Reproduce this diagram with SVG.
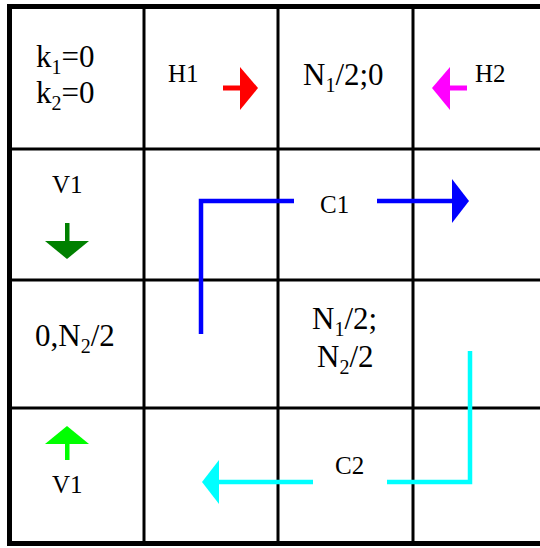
<svg xmlns="http://www.w3.org/2000/svg" width="540" height="548" viewBox="0 0 540 548">
<style>
.big{font-family:"Liberation Serif","Times New Roman",serif;font-size:31px;fill:#000}
.sm{font-family:"Liberation Serif","Times New Roman",serif;font-size:25px;fill:#000}
.sub{font-size:20px}
.grid{stroke:#000;stroke-width:3;fill:none}
.outer{stroke:#000;stroke-width:5;fill:none}
</style>
<rect width="540" height="548" fill="#fff"/>
<g id="grid">
<line class="grid" x1="144" y1="6" x2="144" y2="543"/>
<line class="grid" x1="278" y1="6" x2="278" y2="543"/>
<line class="grid" x1="413" y1="6" x2="413" y2="543"/>
<line class="grid" x1="9" y1="149" x2="540" y2="149"/>
<line class="grid" x1="9" y1="280" x2="540" y2="280"/>
<line class="grid" x1="9" y1="408" x2="540" y2="408"/>
<line class="outer" x1="9.5" y1="4" x2="9.5" y2="546"/>
<line class="outer" x1="7" y1="6.5" x2="540" y2="6.5"/>
<line class="outer" x1="7" y1="543.5" x2="540" y2="543.5"/>
</g>
<g id="cell-k">
<text class="big" x="36" y="67">k<tspan class="sub" dy="7">1</tspan><tspan dy="-7">=0</tspan></text>
<text class="big" x="36" y="103">k<tspan class="sub" dy="7">2</tspan><tspan dy="-7">=0</tspan></text>
</g>
<g id="cell-H1"><text class="sm" x="168" y="82">H1</text></g>
<g id="cell-N10"><text class="big" x="303" y="85">N<tspan class="sub" dy="7">1</tspan><tspan dy="-7">/2;0</tspan></text></g>
<g id="cell-H2"><text class="sm" x="475" y="82">H2</text></g>
<g id="cell-V1top"><text class="sm" x="52" y="193">V1</text></g>
<g id="cell-C1"><text class="sm" x="320" y="213">C1</text></g>
<g id="cell-0N2"><text class="big" x="35" y="346">0,N<tspan class="sub" dy="7">2</tspan><tspan dy="-7">/2</tspan></text></g>
<g id="cell-N1N2">
<text class="big" x="312" y="329">N<tspan class="sub" dy="7">1</tspan><tspan dy="-7">/2;</tspan></text>
<text class="big" x="317" y="367">N<tspan class="sub" dy="7">2</tspan><tspan dy="-7">/2</tspan></text>
</g>
<g id="cell-C2"><text class="sm" x="335" y="474">C2</text></g>
<g id="cell-V1bot"><text class="sm" x="52" y="493">V1</text></g>
<g id="connectors">
<g id="arrow-H1" fill="#ff0000">
<rect x="223" y="85.5" width="18" height="5"/>
<polygon points="240,67 258,88 240,110"/>
</g>
<g id="arrow-H2" fill="#ff00ff">
<rect x="449" y="85.5" width="18" height="5"/>
<polygon points="450,67 432,88 450,110"/>
</g>
<g id="arrow-V1-down" fill="#008000">
<rect x="65" y="223" width="4.5" height="19"/>
<polygon points="45,241 89,241 67,259"/>
</g>
<g id="arrow-V1-up" fill="#00ff00">
<rect x="65" y="443" width="4.5" height="17"/>
<polygon points="45,444 89,444 67,426"/>
</g>
<g id="path-C1">
<polyline points="201,334 201,201 294,201" fill="none" stroke="#0000ff" stroke-width="4.5"/>
<line x1="377" y1="201" x2="453" y2="201" stroke="#0000ff" stroke-width="4.5"/>
<polygon points="452,179 469,201 452,223" fill="#0000ff"/>
</g>
<g id="path-C2">
<polyline points="470,351 470,482 387,482" fill="none" stroke="#00ffff" stroke-width="4.5"/>
<line x1="313" y1="482" x2="218" y2="482" stroke="#00ffff" stroke-width="4.5"/>
<polygon points="219,460 202,482 219,504" fill="#00ffff"/>
</g>
</g>
</svg>
